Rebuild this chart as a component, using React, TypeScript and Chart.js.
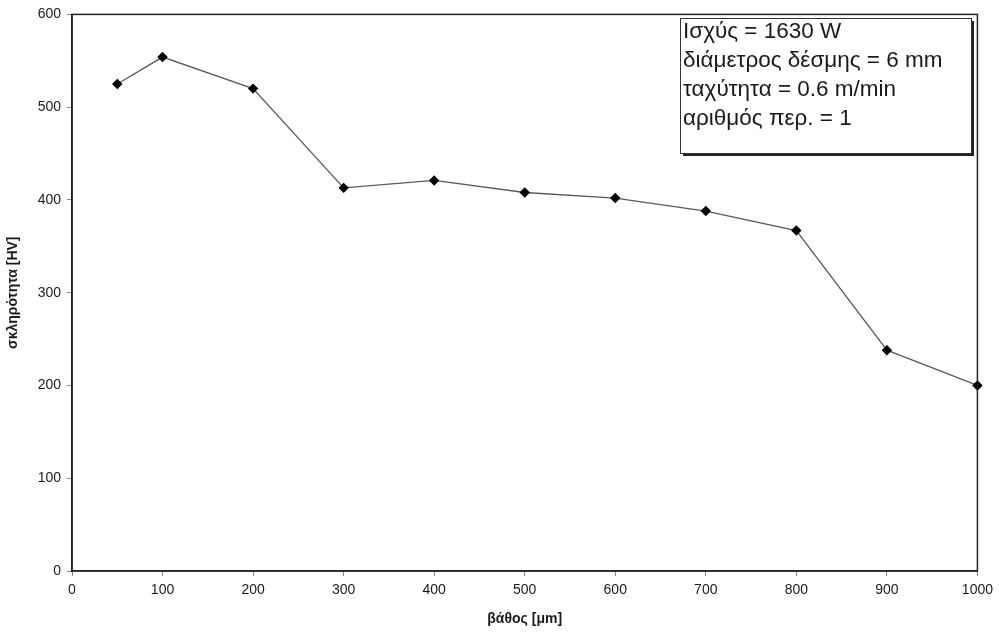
import React, { useEffect, useRef } from "react";
import { Chart, registerables } from "chart.js";
Chart.register(...registerables);

const depths = [50, 100, 200, 300, 400, 500, 600, 700, 800, 900, 1000];
const hardness = [525, 554, 520, 413, 421, 408, 402, 388, 367, 238, 200];
const infoLines = [
  "Ισχύς = 1630 W",
  "διάμετρος δέσμης = 6 mm",
  "ταχύτητα = 0.6 m/min",
  "αριθμός περ. = 1",
];
const xTitle = "βάθος [μm]";
const yTitle = "σκληρότητα [HV]";

const FONT = "'Liberation Sans', Arial, sans-serif";

const framePlugin = {
  id: "frame",
  afterDatasetsDraw(chart: any) {
    const { ctx, chartArea: a } = chart;
    ctx.save();
    ctx.strokeStyle = "#222";
    ctx.lineWidth = 1.5;
    ctx.strokeRect(a.left, a.top, a.right - a.left, a.bottom - a.top);
    // info box
    const bx = 680, by = 18, bw = 291, bh = 135;
    ctx.fillStyle = "#222";
    ctx.fillRect(bx + 3, by + bh, bw, 3);
    ctx.fillRect(bx + bw, by + 3, 3, bh);
    ctx.fillStyle = "#fff";
    ctx.fillRect(bx, by, bw, bh);
    ctx.lineWidth = 1;
    ctx.strokeStyle = "#333";
    ctx.strokeRect(bx + 0.5, by + 0.5, bw, bh);
    ctx.fillStyle = "#1a1a1a";
    ctx.font = "22.5px " + FONT;
    ctx.textBaseline = "middle";
    ctx.textAlign = "left";
    infoLines.forEach((t, i) => ctx.fillText(t, bx + 3, by + 14 + i * 29));
    ctx.restore();
  },
};

export default function App() {
  const ref = useRef<HTMLCanvasElement>(null);
  useEffect(() => {
    document.body.style.margin = "0";
    const chart = new Chart(ref.current!, {
      type: "line",
      data: {
        datasets: [
          {
            data: depths.map((d, i) => ({ x: d, y: hardness[i] })),
            borderColor: "#5a5a5a",
            borderWidth: 1.3,
            pointStyle: "rectRot",
            pointRadius: 4.3,
            pointBackgroundColor: "#000",
            pointBorderColor: "#000",
            clip: false,
            tension: 0,
          } as any,
        ],
      },
      options: {
        animation: false,
        responsive: false,
        plugins: { legend: { display: false }, tooltip: { enabled: false } },
        layout: { padding: { top: 14, right: 21, left: 0, bottom: 0 } },
        scales: {
          x: {
            type: "linear",
            min: 0,
            max: 1000,
            ticks: {
              stepSize: 100,
              color: "#1a1a1a",
              font: { size: 14, family: FONT },
              padding: 6,
              maxRotation: 0,
              callback: (v: any) => String(v),
            },
            grid: { drawOnChartArea: false, drawTicks: true, tickLength: 5, color: "#888" },
            border: { display: true, color: "#222", width: 1.5 },
            title: {
              display: true,
              text: xTitle,
              color: "#1a1a1a",
              font: { size: 14, weight: "bold", family: FONT },
              padding: { top: 4, bottom: 12 },
            },
            afterFit(s: any) { s.height = 69; },
          },
          y: {
            min: 0,
            max: 600,
            ticks: {
              stepSize: 100,
              color: "#1a1a1a",
              font: { size: 14, family: FONT },
              padding: 6,
            },
            grid: { drawOnChartArea: false, drawTicks: true, tickLength: 5, color: "#888" },
            border: { display: true, color: "#222", width: 1.5 },
            title: {
              display: true,
              text: yTitle,
              color: "#1a1a1a",
              font: { size: 14, weight: "bold", family: FONT },
              padding: { bottom: 0, top: 5 },
            },
            afterFit(s: any) { s.width = 72; },
          },
        },
      } as any,
      plugins: [framePlugin],
    });
    return () => chart.destroy();
  }, []);
  return (
    <div style={{ width: 999, height: 640, background: "#fff" }}>
      <canvas ref={ref} width={999} height={640} style={{ display: "block" }} />
    </div>
  );
}
